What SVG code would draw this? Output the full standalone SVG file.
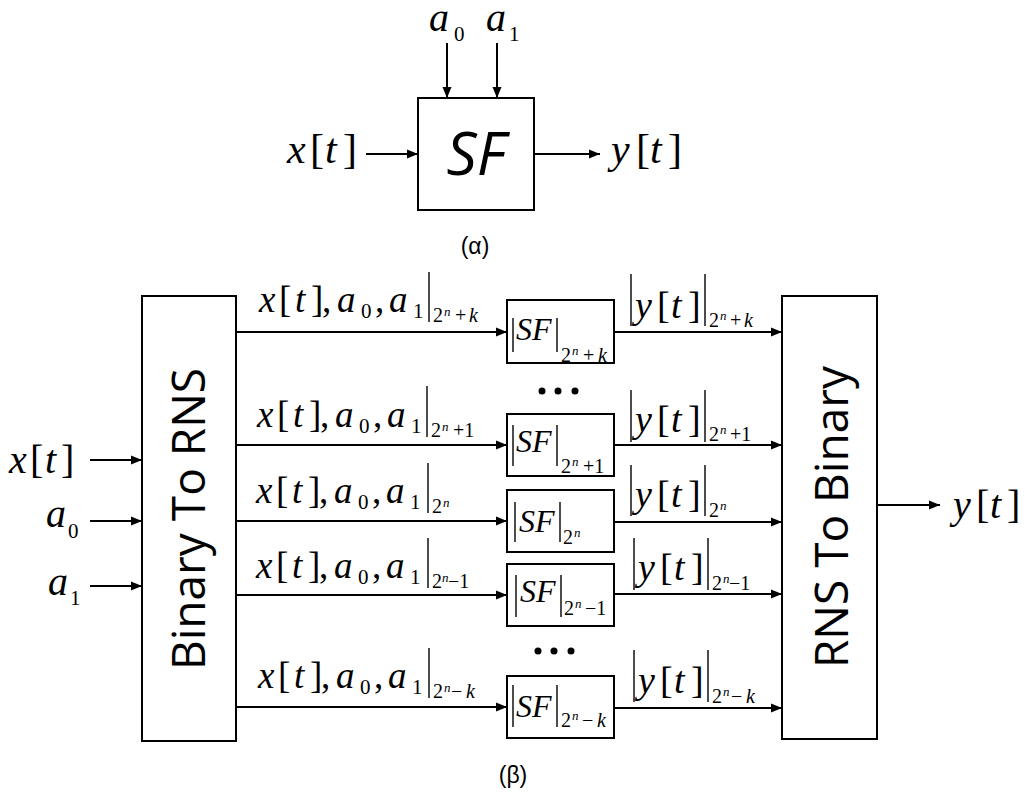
<svg xmlns="http://www.w3.org/2000/svg" width="1025" height="794" viewBox="0 0 1025 794">
<style>
.box{fill:#fff;stroke:#000;stroke-width:2}
.ln{fill:none;stroke:#000;stroke-width:2}
.bar{stroke:#000;stroke-width:1.4}
.m{font-family:"Liberation Serif","Times New Roman",serif;fill:#000}
.i{font-style:italic}
.sans{font-family:"Open Sans","Liberation Sans",sans-serif;fill:#000}
.cap{font-family:"Liberation Sans","DejaVu Sans",sans-serif;font-size:23px;fill:#000}
</style>
<defs>
<marker id="ah" markerUnits="userSpaceOnUse" markerWidth="12" markerHeight="10" refX="11" refY="5" orient="auto">
<path d="M0,0.5 L11,5 L0,9.5 z" fill="#000"/>
</marker>
</defs>
<rect width="1025" height="794" fill="#fff"/>

<!-- (a) top -->
<g id="sf-top">
<rect class="box" x="418" y="98" width="116" height="112"/>
<text class="sans" x="476" y="175" font-size="60" font-style="italic" text-anchor="middle">SF</text>
</g>

<!-- (b) nodes -->
<g id="binary-to-rns">
<rect class="box" x="142" y="296" width="94" height="445"/>
<text class="sans" font-size="46" text-anchor="middle" transform="translate(205,519) rotate(-90)">Binary To RNS</text>
</g>
<g id="rns-to-binary">
<rect class="box" x="782" y="296" width="95" height="443"/>
<text class="sans" font-size="46" text-anchor="middle" transform="translate(848,517) rotate(-90)">RNS To Binary</text>
</g>

<g id="sf-1">
<rect class="box" x="507" y="300" width="107" height="63"/>
<line class="bar" x1="513" y1="318" x2="513" y2="352"/><line class="bar" x1="557" y1="318" x2="557" y2="352"/>
<text class="m"><tspan class="i" x="516" y="340" font-size="32">SF</tspan><tspan x="561" y="362" font-size="20">2</tspan><tspan class="i" x="572" y="355" font-size="13">n</tspan><tspan x="583" y="362" font-size="20">+</tspan><tspan class="i" x="598" y="362" font-size="20">k</tspan></text>
</g>
<g id="sf-2">
<rect class="box" x="507" y="414" width="107" height="62"/>
<line class="bar" x1="513" y1="425" x2="513" y2="466"/><line class="bar" x1="557" y1="425" x2="557" y2="466"/>
<text class="m"><tspan class="i" x="516" y="452" font-size="32">SF</tspan><tspan x="561" y="473" font-size="20">2</tspan><tspan class="i" x="572" y="466" font-size="13">n</tspan><tspan x="583" y="473" font-size="20">+1</tspan></text>
</g>
<g id="sf-3">
<rect class="box" x="507" y="490" width="107" height="62"/>
<line class="bar" x1="515" y1="502" x2="515" y2="542"/><line class="bar" x1="560" y1="502" x2="560" y2="542"/>
<text class="m"><tspan class="i" x="519" y="532" font-size="32">SF</tspan><tspan x="563" y="544" font-size="20">2</tspan><tspan class="i" x="574" y="537" font-size="13">n</tspan></text>
</g>
<g id="sf-4">
<rect class="box" x="507" y="564" width="107" height="62"/>
<line class="bar" x1="516" y1="575" x2="516" y2="617"/><line class="bar" x1="561" y1="575" x2="561" y2="617"/>
<text class="m"><tspan class="i" x="520" y="602" font-size="32">SF</tspan><tspan x="564" y="615" font-size="20">2</tspan><tspan class="i" x="575" y="608" font-size="13">n</tspan><tspan x="585" y="615" font-size="20">−1</tspan></text>
</g>
<g id="sf-5">
<rect class="box" x="507" y="676" width="107" height="62"/>
<line class="bar" x1="513" y1="685" x2="513" y2="727"/><line class="bar" x1="557" y1="685" x2="557" y2="727"/>
<text class="m"><tspan class="i" x="516" y="717" font-size="32">SF</tspan><tspan x="561" y="727" font-size="20">2</tspan><tspan class="i" x="572" y="720" font-size="13">n</tspan><tspan x="582" y="727" font-size="20">−</tspan><tspan class="i" x="597" y="727" font-size="20">k</tspan></text>
</g>

<g id="dots" fill="#000">
<circle cx="542" cy="391" r="3.5"/><circle cx="558" cy="391" r="3.5"/><circle cx="575" cy="391" r="3.5"/>
<circle cx="538" cy="651" r="3.5"/><circle cx="554" cy="651" r="3.5"/><circle cx="571" cy="651" r="3.5"/>
</g>

<g id="connectors" class="ln" marker-end="url(#ah)">
<line x1="447" y1="43" x2="447" y2="98"/>
<line x1="497" y1="43" x2="497" y2="98"/>
<line x1="366" y1="154" x2="418" y2="154"/>
<line x1="534" y1="154" x2="600" y2="154"/>
<line x1="90" y1="460" x2="142" y2="460"/>
<line x1="90" y1="521" x2="142" y2="521"/>
<line x1="90" y1="586" x2="142" y2="586"/>
<line x1="236" y1="332" x2="507" y2="332"/>
<line x1="236" y1="445" x2="507" y2="445"/>
<line x1="236" y1="521" x2="507" y2="521"/>
<line x1="236" y1="595" x2="507" y2="595"/>
<line x1="236" y1="707" x2="507" y2="707"/>
<line x1="614" y1="332" x2="782" y2="332"/>
<line x1="614" y1="445" x2="782" y2="445"/>
<line x1="614" y1="522" x2="782" y2="522"/>
<line x1="614" y1="594" x2="782" y2="594"/>
<line x1="614" y1="708" x2="782" y2="708"/>
<line x1="877" y1="505" x2="940" y2="505"/>
</g>

<g id="labels">
<!-- top -->
<text class="m"><tspan class="i" x="429" y="31" font-size="40">a</tspan><tspan x="454" y="41" font-size="21">0</tspan><tspan class="i" x="486" y="31" font-size="40">a</tspan><tspan x="509" y="41" font-size="21">1</tspan></text>
<text class="m" font-size="42"><tspan class="i" x="287" y="163">x</tspan><tspan x="310" y="163">[</tspan><tspan class="i" x="325" y="163">t</tspan><tspan x="343" y="163">]</tspan></text>
<text class="m" font-size="42"><tspan class="i" x="611" y="163">y</tspan><tspan x="636" y="163">[</tspan><tspan class="i" x="650" y="163">t</tspan><tspan x="668" y="163">]</tspan></text>
<text class="cap" x="475" y="254" text-anchor="middle">(α)</text>

<!-- inputs -->
<text class="m" font-size="40"><tspan class="i" x="9" y="473">x</tspan><tspan x="30" y="473">[</tspan><tspan class="i" x="45" y="473">t</tspan><tspan x="61" y="473">]</tspan></text>
<text class="m"><tspan class="i" x="46" y="527" font-size="40">a</tspan><tspan x="68" y="538" font-size="21">0</tspan></text>
<text class="m"><tspan class="i" x="48" y="595" font-size="40">a</tspan><tspan x="70" y="605" font-size="21">1</tspan></text>

<!-- input labels -->
<line class="bar" x1="429" y1="272" x2="429" y2="322"/>
<text class="m" font-size="37"><tspan class="i" x="259" y="312">x</tspan><tspan x="279" y="312">[</tspan><tspan class="i" x="295" y="312">t</tspan><tspan x="311" y="312">]</tspan><tspan x="322" y="312">,</tspan><tspan class="i" x="337" y="312">a</tspan><tspan x="361" y="318" font-size="21">0</tspan><tspan x="375" y="312">,</tspan><tspan class="i" x="389" y="312">a</tspan><tspan x="413" y="318" font-size="21">1</tspan><tspan x="433" y="322" font-size="20">2</tspan><tspan class="i" x="444" y="316" font-size="13">n</tspan><tspan x="455" y="322" font-size="20">+</tspan><tspan class="i" x="469" y="322" font-size="20">k</tspan></text>

<line class="bar" x1="427" y1="386" x2="427" y2="437"/>
<text class="m" font-size="37"><tspan class="i" x="257" y="427">x</tspan><tspan x="277" y="427">[</tspan><tspan class="i" x="293" y="427">t</tspan><tspan x="309" y="427">]</tspan><tspan x="320" y="427">,</tspan><tspan class="i" x="335" y="427">a</tspan><tspan x="359" y="433" font-size="21">0</tspan><tspan x="373" y="427">,</tspan><tspan class="i" x="387" y="427">a</tspan><tspan x="411" y="433" font-size="21">1</tspan><tspan x="431" y="437" font-size="20">2</tspan><tspan class="i" x="442" y="431" font-size="13">n</tspan><tspan x="453" y="437" font-size="20">+1</tspan></text>

<line class="bar" x1="428" y1="463" x2="428" y2="513"/>
<text class="m" font-size="37"><tspan class="i" x="256" y="503">x</tspan><tspan x="276" y="503">[</tspan><tspan class="i" x="292" y="503">t</tspan><tspan x="308" y="503">]</tspan><tspan x="319" y="503">,</tspan><tspan class="i" x="334" y="503">a</tspan><tspan x="358" y="509" font-size="21">0</tspan><tspan x="372" y="503">,</tspan><tspan class="i" x="386" y="503">a</tspan><tspan x="410" y="509" font-size="21">1</tspan><tspan x="432" y="513" font-size="20">2</tspan><tspan class="i" x="443" y="507" font-size="13">n</tspan></text>

<line class="bar" x1="428" y1="538" x2="428" y2="588"/>
<text class="m" font-size="37"><tspan class="i" x="256" y="578">x</tspan><tspan x="276" y="578">[</tspan><tspan class="i" x="292" y="578">t</tspan><tspan x="308" y="578">]</tspan><tspan x="319" y="578">,</tspan><tspan class="i" x="334" y="578">a</tspan><tspan x="358" y="584" font-size="21">0</tspan><tspan x="372" y="578">,</tspan><tspan class="i" x="386" y="578">a</tspan><tspan x="410" y="584" font-size="21">1</tspan><tspan x="432" y="588" font-size="20">2</tspan><tspan class="i" x="442" y="582" font-size="13">n</tspan><tspan x="448" y="588" font-size="20">−1</tspan></text>

<line class="bar" x1="429" y1="648" x2="429" y2="698"/>
<text class="m" font-size="37"><tspan class="i" x="258" y="688">x</tspan><tspan x="278" y="688">[</tspan><tspan class="i" x="294" y="688">t</tspan><tspan x="310" y="688">]</tspan><tspan x="321" y="688">,</tspan><tspan class="i" x="336" y="688">a</tspan><tspan x="360" y="694" font-size="21">0</tspan><tspan x="374" y="688">,</tspan><tspan class="i" x="388" y="688">a</tspan><tspan x="412" y="694" font-size="21">1</tspan><tspan x="433" y="698" font-size="20">2</tspan><tspan class="i" x="444" y="692" font-size="13">n</tspan><tspan x="451" y="698" font-size="20">−</tspan><tspan class="i" x="466" y="698" font-size="20">k</tspan></text>

<!-- output labels -->
<line class="bar" x1="631" y1="274" x2="631" y2="326"/><line class="bar" x1="705" y1="274" x2="705" y2="326"/>
<text class="m" font-size="38"><tspan class="i" x="635" y="318">y</tspan><tspan x="657" y="318">[</tspan><tspan class="i" x="671" y="318">t</tspan><tspan x="688" y="318">]</tspan><tspan x="709" y="327" font-size="20">2</tspan><tspan class="i" x="720" y="320" font-size="13">n</tspan><tspan x="730" y="327" font-size="20">+</tspan><tspan class="i" x="744" y="327" font-size="20">k</tspan></text>

<line class="bar" x1="631" y1="390" x2="631" y2="442"/><line class="bar" x1="705" y1="390" x2="705" y2="442"/>
<text class="m" font-size="38"><tspan class="i" x="635" y="432">y</tspan><tspan x="657" y="432">[</tspan><tspan class="i" x="671" y="432">t</tspan><tspan x="688" y="432">]</tspan><tspan x="709" y="441" font-size="20">2</tspan><tspan class="i" x="720" y="434" font-size="13">n</tspan><tspan x="730" y="441" font-size="20">+1</tspan></text>

<line class="bar" x1="631" y1="465" x2="631" y2="516"/><line class="bar" x1="705" y1="465" x2="705" y2="516"/>
<text class="m" font-size="38"><tspan class="i" x="635" y="507">y</tspan><tspan x="657" y="507">[</tspan><tspan class="i" x="671" y="507">t</tspan><tspan x="688" y="507">]</tspan><tspan x="709" y="517" font-size="20">2</tspan><tspan class="i" x="720" y="510" font-size="13">n</tspan></text>

<line class="bar" x1="634" y1="538" x2="634" y2="590"/><line class="bar" x1="708" y1="538" x2="708" y2="590"/>
<text class="m" font-size="38"><tspan class="i" x="638" y="580">y</tspan><tspan x="660" y="580">[</tspan><tspan class="i" x="674" y="580">t</tspan><tspan x="691" y="580">]</tspan><tspan x="712" y="590" font-size="20">2</tspan><tspan class="i" x="723" y="583" font-size="13">n</tspan><tspan x="729" y="590" font-size="20">−1</tspan></text>

<line class="bar" x1="634" y1="650" x2="634" y2="702"/><line class="bar" x1="708" y1="650" x2="708" y2="702"/>
<text class="m" font-size="38"><tspan class="i" x="638" y="693">y</tspan><tspan x="660" y="693">[</tspan><tspan class="i" x="674" y="693">t</tspan><tspan x="691" y="693">]</tspan><tspan x="712" y="703" font-size="20">2</tspan><tspan class="i" x="723" y="696" font-size="13">n</tspan><tspan x="731" y="703" font-size="20">−</tspan><tspan class="i" x="746" y="703" font-size="20">k</tspan></text>

<!-- output -->
<text class="m" font-size="40"><tspan class="i" x="953" y="518">y</tspan><tspan x="976" y="518">[</tspan><tspan class="i" x="990" y="518">t</tspan><tspan x="1007" y="518">]</tspan></text>
<text class="cap" x="513" y="783" text-anchor="middle">(β)</text>
</g>
</svg>
